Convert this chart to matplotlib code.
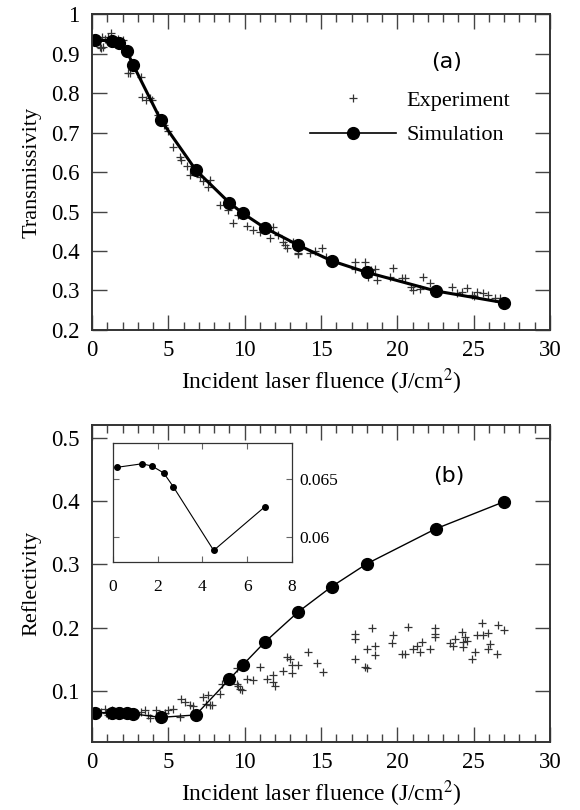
import matplotlib
matplotlib.use('Agg')
import matplotlib.pyplot as plt
from matplotlib.ticker import MultipleLocator, FuncFormatter
from matplotlib.lines import Line2D

plt.rcParams['font.family'] = ['Liberation Serif', 'DejaVu Serif']
plt.rcParams['mathtext.fontset'] = 'stix'

# simulation points (same fluences for both panels)
sim_fluence = [0.2, 1.3, 1.75, 2.27, 2.7, 4.5, 6.8, 9.0, 9.9, 11.3, 13.5, 15.7, 18.0, 22.5, 27.0]
sim_trans = [0.934, 0.932, 0.926, 0.907, 0.871, 0.732, 0.605, 0.522, 0.495, 0.459, 0.415,
             0.375, 0.346, 0.299, 0.269]
sim_refl = [0.0660, 0.0663, 0.0661, 0.0655, 0.0643, 0.0588, 0.0626, 0.119, 0.142, 0.177,
            0.225, 0.265, 0.301, 0.356, 0.399]

# measured transmissivity
exp_t_x = [0.52, 0.61, 0.66, 0.72, 0.83, 1.05, 1.27, 1.5, 1.7, 2.03, 2.38, 2.47, 3.23, 3.25,
           3.56, 3.8, 3.9, 4.3, 4.7, 5.0, 5.33, 5.76, 5.85, 6.2, 6.42, 7.07, 7.3, 7.62, 7.73,
           8.38, 8.9, 9.25, 9.58, 10.13, 10.56, 11.0, 11.66, 11.87, 12.2, 12.53, 12.64,
           12.75, 13.18, 13.47, 13.51, 14.27, 14.6, 15.04, 15.3, 17.22, 17.22, 17.88, 18.1,
           18.3, 18.53, 18.64, 19.5, 19.73, 20.28, 20.5, 20.9, 21.0, 21.48, 21.65, 22.13,
           23.55, 23.88, 24.21, 24.53, 24.86, 25.0, 25.19, 25.62, 25.95, 26.39, 26.72]
exp_t_y = [0.917, 0.913, 0.943, 0.917, 0.938, 0.943, 0.951, 0.935, 0.938, 0.934, 0.851, 0.85,
           0.841, 0.79, 0.782, 0.787, 0.782, 0.745, 0.72, 0.705, 0.664, 0.639, 0.63, 0.615,
           0.592, 0.588, 0.578, 0.563, 0.58, 0.516, 0.505, 0.47, 0.491, 0.463, 0.453, 0.449,
           0.432, 0.461, 0.44, 0.424, 0.415, 0.407, 0.424, 0.392, 0.394, 0.394, 0.4, 0.407,
           0.385, 0.373, 0.354, 0.373, 0.335, 0.352, 0.354, 0.327, 0.335, 0.356, 0.331,
           0.331, 0.31, 0.301, 0.303, 0.335, 0.318, 0.31, 0.293, 0.297, 0.306, 0.289, 0.287,
           0.297, 0.293, 0.289, 0.28, 0.28]

# measured reflectivity
exp_r_x = [0.6, 0.83, 0.94, 1.05, 1.3, 1.6, 1.9, 2.2, 2.5, 2.9, 3.23, 3.47, 3.67, 3.77,
           4.21, 4.76, 4.98, 5.3, 5.74, 5.85, 6.07, 6.4, 6.6, 7.29, 7.5, 7.62, 7.73, 7.84,
           8.38, 8.49, 9.47, 9.47, 9.58, 9.69, 9.8, 10.13, 10.56, 11.0, 11.44, 11.87, 11.87,
           11.98, 12.53, 12.75, 12.97, 13.07, 13.07, 13.51, 14.16, 14.71, 15.15, 17.22,
           17.22, 17.22, 17.88, 17.99, 17.99, 18.32, 18.53, 18.53, 19.62, 19.73, 20.28,
           20.5, 20.72, 21.04, 21.26, 21.48, 21.59, 22.13, 22.46, 22.46, 22.46, 23.44,
           23.66, 23.77, 24.21, 24.32, 24.32, 24.43, 24.53, 24.86, 25.08, 25.19, 25.52,
           25.62, 25.95, 25.95, 26.06, 26.5, 26.6, 26.98]
exp_r_y = [0.068, 0.0727, 0.065, 0.062, 0.070, 0.066, 0.069, 0.064, 0.067, 0.065, 0.0674,
           0.070, 0.062, 0.057, 0.070, 0.065, 0.070, 0.0727, 0.0595, 0.0885, 0.083, 0.078,
           0.076, 0.091, 0.0806, 0.0937, 0.078, 0.078, 0.096, 0.112, 0.112, 0.136, 0.109,
           0.104, 0.1016, 0.12, 0.117, 0.138, 0.12, 0.125, 0.115, 0.109, 0.132, 0.154, 0.151,
           0.141, 0.128, 0.141, 0.162, 0.144, 0.130, 0.191, 0.183, 0.151, 0.138, 0.167, 0.136,
           0.199, 0.172, 0.157, 0.176, 0.188, 0.159, 0.159, 0.202, 0.166, 0.172, 0.162, 0.178,
           0.167, 0.199, 0.191, 0.186, 0.176, 0.172, 0.183, 0.193, 0.178, 0.17, 0.186, 0.18,
           0.151, 0.162, 0.188, 0.207, 0.188, 0.192, 0.167, 0.174, 0.158, 0.204, 0.196]

# low-fluence detail (inset)
inset_x = sim_fluence[:7]
inset_y = sim_refl[:7]

fig = plt.figure(figsize=(5.8, 8.1), dpi=100)
ax_t = fig.add_axes([0.1586, 0.5926, 0.7897, 0.3901])
ax_r = fig.add_axes([0.1586, 0.0840, 0.7897, 0.3914])
ax_in = fig.add_axes([0.1948, 0.3062, 0.3086, 0.1469])

fmt = FuncFormatter(lambda v, p: '%g' % round(v, 4))
exp_style = dict(ls='none', marker='+', ms=6, mew=0.9, color='#333333')


def style_main(ax):
    ax.set_xlim(0, 30)
    ax.xaxis.set_major_locator(MultipleLocator(5))
    ax.xaxis.set_minor_locator(MultipleLocator(1))
    ax.yaxis.set_major_locator(MultipleLocator(0.1))
    ax.xaxis.set_major_formatter(fmt)
    ax.yaxis.set_major_formatter(fmt)
    ax.tick_params(which='both', direction='in', top=True, right=True,
                   labelsize=16.5, color='#444444', width=1)
    ax.tick_params(which='major', length=11, pad=9)
    ax.tick_params(axis='x', which='major', pad=7)
    ax.tick_params(which='minor', length=5.5)
    for s in ax.spines.values():
        s.set_linewidth(1.4)
        s.set_color('#333333')
    ax.set_xlabel('Incident laser fluence (J/cm$^2$)', fontsize=17, labelpad=4)


# (a) transmissivity
ax_t.plot(exp_t_x, exp_t_y, **exp_style)
ax_t.plot(sim_fluence, sim_trans, '-o', color='black', lw=2.2, ms=8.5)
ax_t.set_ylim(0.2, 1.0)
style_main(ax_t)
ax_t.set_ylabel('Transmissivity', fontsize=16, labelpad=7)
ax_t.text(23.2, 0.878, '(a)', fontsize=16, family='DejaVu Sans', ha='center', va='center')
handles = [Line2D([], [], **exp_style),
           Line2D([], [], color='black', lw=1.2, marker='o', ms=8.5)]
ax_t.legend(handles, ['Experiment', 'Simulation'], loc='upper left',
            bbox_to_anchor=(0.477, 0.758), frameon=False, numpoints=1,
            fontsize=16, handlelength=3.85, handletextpad=0.45, labelspacing=0.62,
            borderpad=0, borderaxespad=0)

# (b) reflectivity
ax_r.plot(exp_r_x, exp_r_y, **exp_style)
ax_r.plot(sim_fluence, sim_refl, '-o', color='black', lw=1.0, ms=8.5)
ax_r.set_ylim(0.02, 0.52)
style_main(ax_r)
ax_r.set_ylabel('Reflectivity', fontsize=16, labelpad=7)
ax_r.text(23.4, 0.44, '(b)', fontsize=16, family='DejaVu Sans', ha='center', va='center')

# inset
ax_in.plot(inset_x, inset_y, '-o', color='black', lw=0.8, ms=4)
ax_in.set_xlim(0, 8)
ax_in.set_ylim(0.0578, 0.0681)
ax_in.xaxis.set_major_locator(MultipleLocator(2))
ax_in.yaxis.set_major_locator(MultipleLocator(0.005))
ax_in.xaxis.set_major_formatter(fmt)
ax_in.yaxis.set_major_formatter(fmt)
ax_in.tick_params(direction='in', top=True, right=True, left=True, bottom=True,
                  labelleft=False, labelright=True, labelsize=12.5, length=4,
                  color='#666666', width=0.8, pad=5)
ax_in.tick_params(axis='x', pad=12)
for s in ax_in.spines.values():
    s.set_linewidth(0.9)
    s.set_color('#333333')

fig.savefig('out.png', dpi=100)
